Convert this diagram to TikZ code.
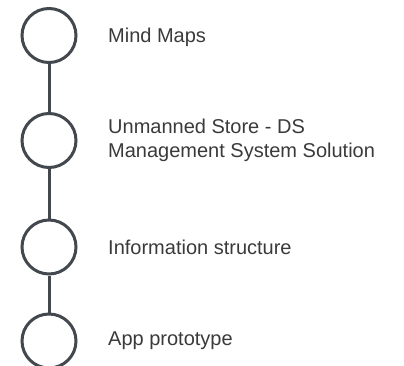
\documentclass[tikz,border=0pt]{standalone}
\usepackage{fontspec}
\setmainfont{Liberation Sans}
\usetikzlibrary{positioning}
\definecolor{RingGray}{HTML}{43484F}
\definecolor{TextGray}{HTML}{3A3A3A}
\tikzset{
	stage/.style={
		circle,draw=RingGray,line width=3pt,
		minimum size=54pt,inner sep=0pt},
	desc/.style={
		inner sep=0pt,align=left,text=TextGray,
		font=\fontsize{20pt}{24pt}\selectfont},
	link/.style={draw=RingGray,line width=3pt}
}

\begin{document}
\begin{tikzpicture}
	\useasboundingbox (0,0) rectangle (404pt,-366pt);
	\node[stage] (s1) at (49pt,-35.5pt) {};
	\node[stage,below=48pt of s1] (s2) {};
	\node[stage,below=49.5pt of s2] (s3) {};
	\node[stage,below=37pt of s3] (s4) {};
	\node[desc,right=30.5pt of s1,yshift=-2pt] (t1) {Mind Maps};
	\node[desc,right=30.5pt of s2] (t2) {Unmanned Store - DS\\Management System Solution};
	\node[desc,right=30.5pt of s3] (t3) {Information structure};
	\node[desc,right=30.5pt of s4] (t4) {App prototype};
	\draw[link] (s1) -- (s2);
	\draw[link] (s2) -- (s3);
	\draw[link] (s3) -- (s4);
\end{tikzpicture}
\end{document}
